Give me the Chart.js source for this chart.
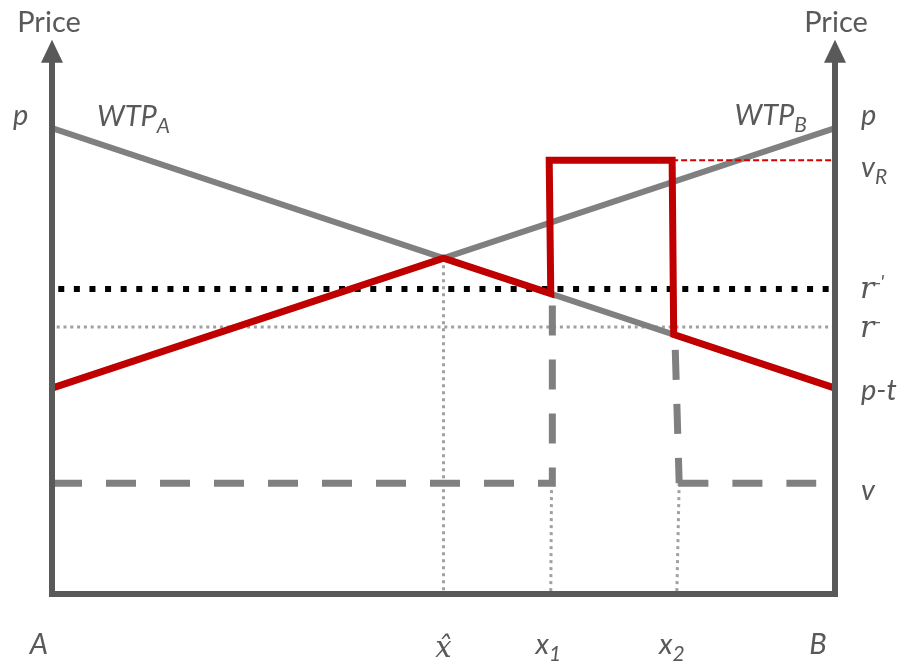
<!DOCTYPE html>
<html lang="en">
<head>
    <meta charset="UTF-8">
    <title>Price discrimination on the line</title>
    <script src="https://cdn.jsdelivr.net/npm/chart.js"></script>
    <style>
        body, html {
            margin: 0;
            padding: 0;
            width: 100%;
            height: 100%;
            overflow: hidden;
            background: #fff;
        }
        #wrap { width: 908px; height: 665px; position: relative; }
    </style>
</head>
<body>
<div id="wrap"><canvas id="chart"></canvas></div>
<script>
    // position on the line, A = 0 .. B = 1 ; price levels
    const positionTicks = [0, 0.5, 0.638, 0.797, 1];
    const positionTickText = ['A', 'x̂', 'x_1', 'x_2', 'B'];
    const priceTicks = [10, 9.31, 6.55, 5.73, 4.42, 2.38];
    const priceTickText = ['p', 'v_R', "r^-'", 'r^-', 'p-t', 'v'];

    const wtpA = [{x: 0, y: 10}, {x: 1, y: 4.42}];
    const wtpB = [{x: 0, y: 4.42}, {x: 1, y: 10}];
    const pricePath = [
        {x: 0, y: 4.42}, {x: 0.5, y: 7.21}, {x: 0.637, y: 6.45}, {x: 0.635, y: 9.31},
        {x: 0.792, y: 9.31}, {x: 0.794, y: 5.57}, {x: 1, y: 4.42}
    ];
    const vRLine = [{x: 0.792, y: 9.31}, {x: 1, y: 9.31}];
    const rPrimeLine = [{x: 0.008, y: 6.55}, {x: 1, y: 6.55}];
    const rBarLine = [{x: 0.006, y: 5.73}, {x: 1, y: 5.73}];
    const vLeft = [{x: 0, y: 2.38}, {x: 0.639, y: 2.38}, {x: 0.639, y: 6.28}];
    const vRightDrop = [{x: 0.796, y: 5.24}, {x: 0.801, y: 2.38}];
    const vRightFlat = [{x: 0.8, y: 2.38}, {x: 0.976, y: 2.38}];
    const xHatDrop = [{x: 0.5, y: 7.21}, {x: 0.5, y: 0}];
    const x1Drop = [{x: 0.638, y: 2.38}, {x: 0.637, y: 0}];
    const x2Drop = [{x: 0.801, y: 2.38}, {x: 0.798, y: 0}];

    const axisTop = 11.9;
    const ink = '#595959';

    function fontOf(size, italic, serif) {
        const fam = serif ? '"DejaVu Serif", "Liberation Serif", serif' : 'Lato, "Open Sans", sans-serif';
        return (italic ? 'italic ' : '') + size + 'px ' + fam;
    }

    // "v_R" -> v with subscript R, "r^-" -> r with superscript
    function drawRich(ctx, str, x, y, size, opts) {
        const m = str.match(/^([^_^]*)([_^]?)(.*)$/);
        const parts = [{t: m[1], s: size, dy: 0, serif: opts.serif}];
        if (m[2] === '_') parts.push({t: m[3], s: Math.round(size * 0.72), dy: 7, serif: opts.serif});
        if (m[2] === '^') parts.push({t: m[3], s: 20, dy: -9, serif: false});
        let w = 0;
        parts.forEach(p => {
            ctx.font = fontOf(p.s, opts.italic, p.serif);
            p.w = ctx.measureText(p.t).width;
            w += p.w;
        });
        let cx = opts.align === 'center' ? x - w / 2 : (opts.align === 'right' ? x - w : x);
        ctx.textAlign = 'left';
        ctx.textBaseline = 'alphabetic';
        parts.forEach(p => {
            ctx.font = fontOf(p.s, opts.italic, p.serif);
            ctx.fillText(p.t, cx, y + p.dy);
            cx += p.w;
        });
    }

    const frame = {
        id: 'frame',
        afterDatasetsDraw(chart) {
            const ctx = chart.ctx;
            const xs = chart.scales.x, ys = chart.scales.y;
            const left = xs.getPixelForValue(0), right = xs.getPixelForValue(1);
            const bottom = ys.getPixelForValue(0), tip = ys.getPixelForValue(axisTop);
            ctx.save();
            ctx.strokeStyle = ink;
            ctx.fillStyle = ink;
            ctx.lineWidth = 6;
            ctx.lineJoin = 'miter';
            ctx.beginPath();
            ctx.moveTo(left, tip + 20);
            ctx.lineTo(left, bottom);
            ctx.lineTo(right, bottom);
            ctx.lineTo(right, tip + 20);
            ctx.stroke();
            [left, right].forEach(ax => {
                ctx.beginPath();
                ctx.moveTo(ax, tip);
                ctx.lineTo(ax - 11, tip + 23);
                ctx.lineTo(ax + 11, tip + 23);
                ctx.closePath();
                ctx.fill();
            });

            drawRich(ctx, 'Price', left - 3, tip - 8, 29, {align: 'center'});
            drawRich(ctx, 'Price', right + 1, tip - 8, 29, {align: 'center'});

            // price levels on the right, p repeated on the left
            const dy = [-3, 17, 9, 10, 12, 17];
            priceTicks.forEach((v, i) => {
                const txt = priceTickText[i];
                const isR = txt[0] === 'r';
                drawRich(ctx, txt, right + (isR ? 25 : 26), ys.getPixelForValue(v) + dy[i], isR ? 30 : 29,
                    {italic: true, serif: isR});
            });
            drawRich(ctx, priceTickText[0], left - 39, ys.getPixelForValue(priceTicks[0]) - 3, 29, {italic: true});

            drawRich(ctx, 'WTP_A', left + 45, ys.getPixelForValue(priceTicks[0]) - 2, 29, {italic: true});
            drawRich(ctx, 'WTP_B', right - 28, ys.getPixelForValue(priceTicks[0]) - 3, 29, {italic: true, align: 'right'});

            // positions under the line
            const dx = [-13, 0, -16, -17, -17];
            positionTicks.forEach((v, i) => {
                const txt = positionTickText[i];
                const serif = txt === 'x̂';
                const align = txt.indexOf('_') > 0 ? 'left' : 'center';
                drawRich(ctx, txt, xs.getPixelForValue(v) + dx[i], bottom + (serif ? 63 : 60), 29,
                    {italic: true, serif: serif, align: align});
            });
            ctx.restore();
        }
    };

    const line = (data, color, width, dash) => ({
        data: data,
        borderColor: color,
        borderWidth: width,
        borderDash: dash || [],
        pointRadius: 0,
        fill: false,
        tension: 0,
        clip: false,
        borderJoinStyle: 'miter'
    });

    new Chart(document.getElementById('chart'), {
        type: 'line',
        data: {
            datasets: [
                line(vRLine, '#d40000', 2, [6, 3]),
                line(pricePath, '#c00000', 7),
                line(rPrimeLine, '#000000', 6, [6, 9.6]),
                line(wtpA, '#808080', 6),
                line(wtpB, '#808080', 6),
                line(vLeft, '#808080', 7, [30, 24]),
                line(vRightDrop, '#808080', 7, [30, 24]),
                line(vRightFlat, '#808080', 7, [30, 24]),
                line(rBarLine, '#a0a0a0', 3, [3, 3.8]),
                line(xHatDrop, '#a0a0a0', 3, [3, 4]),
                line(x1Drop, '#a0a0a0', 3, [3, 4]),
                line(x2Drop, '#a0a0a0', 3, [3, 4])
            ]
        },
        options: {
            responsive: true,
            maintainAspectRatio: false,
            animation: false,
            layout: { padding: { left: 52, right: 73, top: 35, bottom: 71 } },
            scales: {
                x: { type: 'linear', min: 0, max: 1, display: false },
                y: { type: 'linear', min: 0, max: 12, display: false }
            },
            plugins: {
                legend: { display: false },
                tooltip: { enabled: false }
            }
        },
        plugins: [frame]
    });
</script>
</body>
</html>
